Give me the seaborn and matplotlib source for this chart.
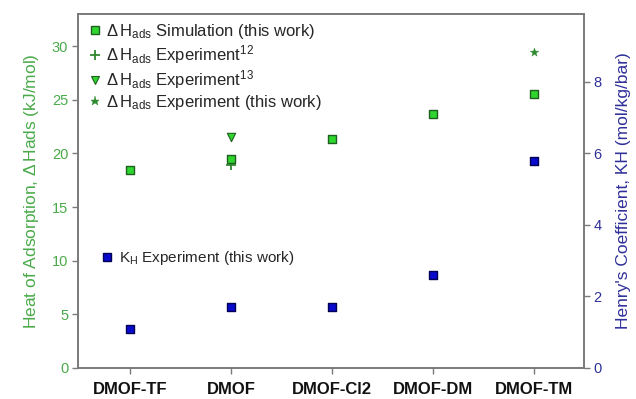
import matplotlib
matplotlib.use("Agg")
import matplotlib.pyplot as plt
from matplotlib.lines import Line2D
import seaborn as sns
import pandas as pd

# Frameworks on the x axis
categories = ["DMOF-TF", "DMOF", "DMOF-Cl2", "DMOF-DM", "DMOF-TM"]

# Heat of adsorption (kJ/mol)
dh_simulation = [18.5, 19.5, 21.3, 23.7, 25.5]
dh_exp12_cat = ["DMOF"]
dh_exp12 = [18.9]
dh_exp13_cat = ["DMOF"]
dh_exp13 = [21.5]
dh_exp_this_cat = ["DMOF-TM"]
dh_exp_this = [29.5]

# Henry's coefficient (mol/kg/bar)
kh_experiment = [1.1, 1.7, 1.7, 2.6, 5.8]

left_ticks = [0, 5, 10, 15, 20, 25, 30]
right_ticks = [0, 2, 4, 6, 8]

sns.set_theme(style="white")
plt.rcParams["font.family"] = ["Liberation Sans", "DejaVu Sans"]
plt.rcParams["mathtext.fontset"] = "custom"
plt.rcParams["mathtext.rm"] = "Liberation Sans"
plt.rcParams["mathtext.it"] = "Liberation Sans:italic"
plt.rcParams["mathtext.bf"] = "Liberation Sans:bold"

GREEN_FILL = "#2ed62e"
GREEN_EDGE = "#1f5f1f"
GREEN_DARK = "#2f8a2f"
BLUE_FILL = "#0a0acc"
BLUE_EDGE = "#000055"
SPINE = "#7a7a7a"
LEFT_TXT = "#4aaa4a"
RIGHT_TXT = "#30309a"

MS = 5.5

fig = plt.figure(figsize=(6.36, 3.99), dpi=100)
ax = fig.add_axes([0.1226, 0.0777, 0.7956, 0.8873])
ax2 = ax.twinx()

df_sim = pd.DataFrame({"framework": categories, "dh": dh_simulation})
df_e12 = pd.DataFrame({"framework": dh_exp12_cat, "dh": dh_exp12})
df_e13 = pd.DataFrame({"framework": dh_exp13_cat, "dh": dh_exp13})
df_eth = pd.DataFrame({"framework": dh_exp_this_cat, "dh": dh_exp_this})
df_kh = pd.DataFrame({"framework": categories, "kh": kh_experiment})

sns.stripplot(data=df_e12, x="framework", y="dh", order=categories, jitter=False,
              marker="+", size=6.5, color=GREEN_DARK, linewidth=1.3, ax=ax, zorder=3)
sns.stripplot(data=df_sim, x="framework", y="dh", order=categories, jitter=False,
              marker="s", size=MS, color=GREEN_FILL, edgecolor=GREEN_EDGE,
              linewidth=1.0, ax=ax, zorder=4)
sns.stripplot(data=df_e13, x="framework", y="dh", order=categories, jitter=False,
              marker="v", size=MS + 0.5, color=GREEN_FILL, edgecolor=GREEN_EDGE,
              linewidth=0.8, ax=ax, zorder=4)
sns.stripplot(data=df_eth, x="framework", y="dh", order=categories, jitter=False,
              marker="*", size=6.5, color=GREEN_DARK, edgecolor=GREEN_DARK,
              linewidth=0.3, ax=ax, zorder=4)
sns.stripplot(data=df_kh, x="framework", y="kh", order=categories, jitter=False,
              marker="s", size=MS, color=BLUE_FILL, edgecolor=BLUE_EDGE,
              linewidth=1.0, ax=ax2, zorder=4)

for a in (ax, ax2):
    a.set_xlim(-0.52, 4.5)
    for s in a.spines.values():
        s.set_color(SPINE)
        s.set_linewidth(1.2)

ax.set_ylim(0, 33)
ax2.set_ylim(0, 9.9)
ax.set_yticks(left_ticks)
ax2.set_yticks(right_ticks)
ax.set_xticks(range(len(categories)))
ax.set_xticklabels(categories, fontsize=12, fontweight="bold", color="#111111")

ax.tick_params(axis="y", direction="out", length=4, width=1, color=SPINE,
               labelsize=10.5, labelcolor=LEFT_TXT, pad=3, left=True)
ax.tick_params(axis="x", direction="out", length=4, width=1, color=SPINE,
               pad=6, bottom=True)
ax2.tick_params(axis="y", direction="out", length=4, width=1, color=SPINE,
                labelsize=10.5, labelcolor=RIGHT_TXT, pad=3, right=True)

ax.set_xlabel("")
ax.set_ylabel(r"Heat of Adsorption, $\Delta\,$Hads (kJ/mol)", fontsize=12.5,
              color=LEFT_TXT, labelpad=8)
ax2.set_ylabel("Henry's Coefficient, KH (mol/kg/bar)", fontsize=12.5,
               color=RIGHT_TXT, labelpad=10)

handles = [
    Line2D([], [], ls="none", marker="s", ms=MS, mfc=GREEN_FILL, mec=GREEN_EDGE, mew=1.0),
    Line2D([], [], ls="none", marker="+", ms=6.5, color=GREEN_DARK, mew=1.3),
    Line2D([], [], ls="none", marker="v", ms=MS + 0.5, mfc=GREEN_FILL, mec=GREEN_EDGE, mew=0.8),
    Line2D([], [], ls="none", marker="*", ms=6.5, mfc=GREEN_DARK, mec=GREEN_DARK, mew=0.3),
]
labels = [
    r"$\Delta\,$H$_{\mathrm{ads}}$ Simulation (this work)",
    r"$\Delta\,$H$_{\mathrm{ads}}$ Experiment$^{12}$",
    r"$\Delta\,$H$_{\mathrm{ads}}$ Experiment$^{13}$",
    r"$\Delta\,$H$_{\mathrm{ads}}$ Experiment (this work)",
]
leg1 = ax2.legend(handles, labels, loc="upper left", bbox_to_anchor=(0.005, 1.0),
                  frameon=False, fontsize=12, handlelength=0.7, handletextpad=0.35,
                  labelspacing=0.12, borderaxespad=0.3, borderpad=0.2)
ax2.add_artist(leg1)

kh_handle = [Line2D([], [], ls="none", marker="s", ms=MS, mfc=BLUE_FILL,
                    mec=BLUE_EDGE, mew=1.0)]
ax2.legend(kh_handle, [r"K$_{\mathrm{H}}$ Experiment (this work)"], loc="center left",
           bbox_to_anchor=(0.02, 0.31), frameon=False, fontsize=11,
           handlelength=0.7, handletextpad=0.4)

fig.savefig("out.png", dpi=100)
